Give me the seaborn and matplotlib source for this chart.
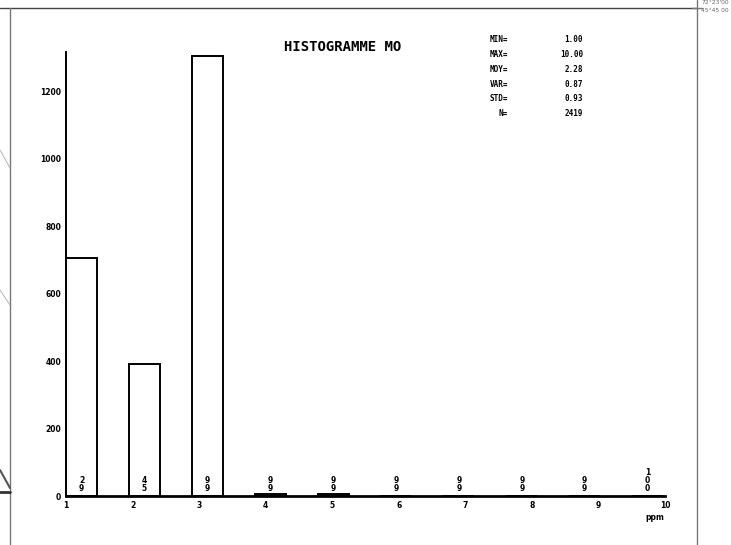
import numpy as np
import pandas as pd
import matplotlib
matplotlib.use("Agg")
import matplotlib.pyplot as plt
import seaborn as sns
from matplotlib.lines import Line2D

# ---- data ----
classes = [1, 2, 3, 4, 5, 6, 7, 8, 9, 10]
bin_left = [1.0, 1.945, 2.89, 3.835, 4.78, 5.725, 6.67, 7.615, 8.56, 9.505]
counts = [705, 391, 1305, 7, 6, 1, 1, 1, 1, 1]
cum_pct = ["29", "45", "99", "99", "99", "99", "99", "99", "99", "100"]
y_ticks = [0, 200, 400, 600, 800, 1000, 1200]
x_tick_labels = ["1", "2", "3", "4", "5", "6", "7", "8", "9", "10"]
stat_names = ["MIN=", "MAX=", "MOY=", "VAR=", "STD=", "N="]
stat_values = ["1.00", "10.00", "2.28", "0.87", "0.93", "2419"]
title = "HISTOGRAMME MO"

bar_w = 0.466
centres = [b + bar_w / 2 for b in bin_left]
df = pd.DataFrame({"x": centres, "n": counts})

sns.set_theme(style="white")
plt.rcParams["font.family"] = ["DejaVu Sans"]

W, H = 731, 545
fig = plt.figure(figsize=(W / 100, H / 100), dpi=100)
ax = fig.add_axes([66 / W, (H - 496) / H, 599 / W, (496 - 52) / H])

sns.barplot(data=df, x="x", y="n", native_scale=True, width=bar_w / 0.945,
            color="white", edgecolor="black", linewidth=1.4, ax=ax,
            errorbar=None, saturation=1)

ax.set_xlim(1, 10)
ax.set_ylim(0, 1316)
ax.set_xticks(classes)
ax.set_xticklabels(x_tick_labels)
ax.set_yticks(y_ticks)
ax.set_yticklabels([str(v) for v in y_ticks])
ax.set_xlabel("")
ax.set_ylabel("")
ax.set_facecolor("white")
for s in ["top", "right"]:
    ax.spines[s].set_visible(False)
ax.spines["left"].set_color("black")
ax.spines["left"].set_linewidth(1.4)
ax.spines["bottom"].set_color("black")
ax.spines["bottom"].set_linewidth(2.0)
ax.tick_params(axis="both", direction="inout", length=5, width=1.2,
               colors="black", labelsize=5.5, pad=1)
for lab in ax.get_xticklabels() + ax.get_yticklabels():
    lab.set_fontweight("bold")

# stacked cumulative-percent labels
for c, p in zip(centres, cum_pct):
    ax.text(c, 8, "\n".join(p), ha="center", va="bottom", fontsize=5.5,
            fontweight="bold", linespacing=0.85, color="black")

fig.text(655 / W, 1 - 518 / H, "ppm", fontsize=5.5, fontweight="bold",
         ha="center", va="center", color="black")

# title and statistics
fig.text(343 / W, 1 - 47 / H, title, ha="center", va="center",
         fontsize=10, fontweight="bold", family="DejaVu Sans Mono",
         color="black")
for i, (nm, vl) in enumerate(zip(stat_names, stat_values)):
    yy = 1 - (40 + i * 14.7) / H
    fig.text(508 / W, yy, nm, ha="right", va="center", fontsize=5.5,
             fontweight="bold", family="DejaVu Sans Mono", color="black")
    fig.text(583 / W, yy, vl, ha="right", va="center", fontsize=5.5,
             fontweight="bold", family="DejaVu Sans Mono", color="black")

# map-sheet frame lines
def px_line(x0, y0, x1, y1, lw=1.0, color="#555555"):
    fig.add_artist(Line2D([x0 / W, x1 / W], [1 - y0 / H, 1 - y1 / H],
                          lw=lw, color=color))

px_line(0, 8, 697, 8, 1.0, "#444444")
px_line(10, 8, 10, 545, 1.0, "#777777")
px_line(697, 0, 697, 545, 1.0, "#777777")
px_line(692, 8, 702, 8, 1.0, "#777777")
px_line(0, 150, 10, 168, 0.6, "#aaaaaa")
px_line(0, 290, 10, 305, 0.6, "#aaaaaa")
px_line(0, 470, 10, 488, 1.5, "#555555")
px_line(0, 492, 10, 492, 2.0, "#333333")
fig.text(729 / W, 1 - 3 / H, "72°23'00", fontsize=4.3, color="#666666",
         ha="right", va="center")
fig.text(729 / W, 1 - 10 / H, "45°45 00", fontsize=4.3, color="#666666",
         ha="right", va="center")

fig.savefig("out.png", dpi=100, facecolor="white")
